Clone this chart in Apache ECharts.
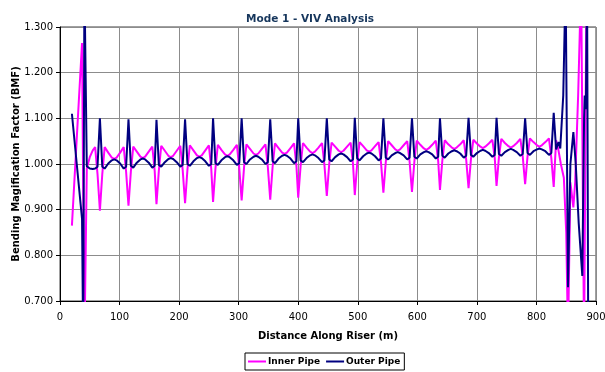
<!DOCTYPE html>
<html>
<head>
<meta charset="utf-8">
<title>Mode 1 - VIV Analysis</title>
<script src="https://cdn.jsdelivr.net/npm/echarts@6/dist/echarts.min.js"></script>
<style>
  html, body { margin: 0; padding: 0; background: #fff; }
  #chart { width: 605px; height: 372px; }
</style>
</head>
<body>
<div id="chart"></div>
<script>
// distance along riser (m), shared by both pipes up to 829 m
const distance = [
  20, 37, 39, 41, 45, 50, 55, 59, 63,
  67, 71, 75, 81, 87, 91, 95, 101, 107, 111,
  115, 119, 123, 129, 135, 139, 143, 149, 155, 159,
  162, 166, 170, 176, 182, 186, 190, 196, 202, 206,
  210, 214, 218, 224, 230, 234, 238, 244, 250, 254,
  257, 261, 265, 271, 277, 281, 285, 291, 297, 301,
  305, 309, 313, 319, 325, 329, 333, 339, 345, 349,
  353, 357, 361, 367, 373, 377, 381, 387, 393, 397,
  400, 404, 408, 414, 420, 424, 428, 434, 440, 444,
  448, 452, 456, 462, 468, 472, 476, 482, 488, 492,
  495, 499, 503, 509, 515, 519, 523, 529, 535, 539,
  543, 547, 551, 557, 563, 567, 571, 577, 583, 587,
  591, 595, 599, 605, 611, 615, 619, 625, 631, 635,
  638, 642, 646, 652, 658, 662, 666, 672, 678, 682,
  686, 690, 694, 700, 706, 710, 714, 720, 726, 730,
  733, 737, 741, 747, 753, 757, 761, 767, 773, 777,
  781, 785, 789, 795, 801, 805, 809, 815, 821, 825,
  829
];

const innerBmf = [
  0.865, 1.265, 0.930, 0.600, 0.990, 1.015, 1.030, 1.037, 0.978,
  0.898, 0.978, 1.037, 1.025, 1.014, 1.011, 1.014, 1.025, 1.037, 0.983,
  0.909, 0.984, 1.038, 1.027, 1.016, 1.013, 1.016, 1.027, 1.038, 0.985,
  0.912, 0.986, 1.040, 1.029, 1.018, 1.015, 1.018, 1.029, 1.040, 0.987,
  0.914, 0.988, 1.041, 1.030, 1.019, 1.016, 1.019, 1.030, 1.041, 0.989,
  0.917, 0.990, 1.042, 1.031, 1.021, 1.018, 1.021, 1.031, 1.042, 0.991,
  0.920, 0.992, 1.043, 1.033, 1.023, 1.020, 1.023, 1.033, 1.043, 0.993,
  0.922, 0.994, 1.045, 1.035, 1.025, 1.022, 1.025, 1.035, 1.045, 0.996,
  0.926, 0.996, 1.046, 1.036, 1.027, 1.024, 1.027, 1.036, 1.046, 0.998,
  0.930, 0.999, 1.047, 1.038, 1.029, 1.026, 1.029, 1.038, 1.047, 1.000,
  0.932, 1.000, 1.048, 1.039, 1.030, 1.027, 1.030, 1.039, 1.048, 1.003,
  0.937, 1.004, 1.050, 1.041, 1.032, 1.029, 1.032, 1.041, 1.050, 1.005,
  0.939, 1.005, 1.051, 1.042, 1.034, 1.031, 1.034, 1.042, 1.051, 1.007,
  0.943, 1.008, 1.052, 1.043, 1.036, 1.033, 1.036, 1.043, 1.052, 1.010,
  0.947, 1.010, 1.053, 1.045, 1.038, 1.035, 1.038, 1.045, 1.053, 1.013,
  0.952, 1.014, 1.055, 1.046, 1.039, 1.036, 1.039, 1.046, 1.055, 1.016,
  0.956, 1.016, 1.056, 1.048, 1.041, 1.038, 1.041, 1.048, 1.056, 1.013,
  0.950
];

const outerBmf = [
  1.110, 0.880, 0.600, 1.400, 0.995, 0.990, 0.989, 0.990, 0.994,
  1.100, 0.994, 0.990, 1.001, 1.008, 1.010, 1.008, 1.001, 0.990, 0.994,
  1.098, 0.996, 0.992, 1.003, 1.010, 1.012, 1.010, 1.003, 0.992, 0.996,
  1.097, 0.998, 0.994, 1.004, 1.011, 1.013, 1.011, 1.004, 0.994, 0.998,
  1.098, 1.000, 0.996, 1.006, 1.013, 1.015, 1.013, 1.006, 0.996, 1.000,
  1.100, 1.002, 0.998, 1.008, 1.015, 1.017, 1.015, 1.008, 0.998, 1.002,
  1.100, 1.004, 1.000, 1.010, 1.016, 1.018, 1.016, 1.010, 1.000, 1.004,
  1.098, 1.006, 1.002, 1.012, 1.018, 1.020, 1.018, 1.012, 1.002, 1.006,
  1.100, 1.008, 1.004, 1.013, 1.019, 1.021, 1.019, 1.013, 1.004, 1.008,
  1.100, 1.010, 1.006, 1.015, 1.021, 1.023, 1.021, 1.015, 1.006, 1.010,
  1.101, 1.012, 1.008, 1.017, 1.023, 1.025, 1.023, 1.017, 1.008, 1.012,
  1.100, 1.014, 1.010, 1.019, 1.024, 1.026, 1.024, 1.019, 1.010, 1.014,
  1.100, 1.016, 1.012, 1.021, 1.026, 1.028, 1.026, 1.021, 1.012, 1.016,
  1.100, 1.018, 1.014, 1.023, 1.028, 1.030, 1.028, 1.023, 1.014, 1.018,
  1.101, 1.020, 1.016, 1.024, 1.029, 1.031, 1.029, 1.024, 1.016, 1.020,
  1.101, 1.022, 1.018, 1.026, 1.031, 1.033, 1.031, 1.026, 1.018, 1.022,
  1.100, 1.024, 1.020, 1.028, 1.032, 1.034, 1.032, 1.028, 1.020, 1.024,
  1.112
];

// unstable tail near the bottom end of the riser
const innerTailDistance = [833, 837, 841, 846, 850, 853, 857, 862, 865, 870, 875, 880, 884];
const innerTailBmf      = [1.052, 1.030, 1.000, 0.970, 0.850, 0.620, 0.960, 0.905, 0.960, 1.150, 1.400, 0.600, 1.400];
const outerTailDistance = [833, 837, 840, 845, 849, 853, 857, 862, 866, 871, 877, 880, 881, 883, 885, 887];
const outerTailBmf      = [1.032, 1.048, 1.034, 1.150, 1.400, 0.730, 1.000, 1.070, 1.000, 0.870, 0.755, 1.100, 1.150, 1.120, 1.400, 0.600];

const xTicks = [0, 100, 200, 300, 400, 500, 600, 700, 800, 900];
const yTicks = [0.7, 0.8, 0.9, 1.0, 1.1, 1.2, 1.3];

function pairs(xs, ys) {
  return xs.map((x, i) => [x, ys[i]]);
}

const font = 'DejaVu Sans, Verdana, sans-serif';
const gridColor = '#8c8c8c';

const chart = echarts.init(document.getElementById('chart'), null, { renderer: 'canvas' });

const option = {
  animation: false,
  backgroundColor: '#fff',
  title: {
    text: 'Mode 1 - VIV Analysis',
    left: 305,
    textAlign: 'center',
    top: 9,
    textStyle: { fontFamily: font, fontSize: 10.5, fontWeight: 'bold', color: '#16365c' }
  },
  grid: {
    left: 60, right: 9, top: 27, bottom: 71,
    outerBoundsMode: 'none',
    containLabel: false,
    show: true, borderColor: '#404040', borderWidth: 1, backgroundColor: '#fff'
  },
  legend: {
    left: 245, top: 353,
    orient: 'horizontal',
    icon: 'rect',
    itemWidth: 18, itemHeight: 2, itemGap: 6,
    padding: [4, 4, 4, 3],
    borderColor: '#000', borderWidth: 1, backgroundColor: '#fff',
    textStyle: { fontFamily: font, fontSize: 9, fontWeight: 'bold', color: '#000', padding: [0, 0, 0, -3] },
    data: ['Inner Pipe', 'Outer Pipe']
  },
  xAxis: {
    type: 'value',
    min: xTicks[0], max: xTicks[xTicks.length - 1], interval: 100,
    name: 'Distance Along Riser (m)',
    nameLocation: 'middle', nameGap: 30,
    nameMoveOverlap: false,
    nameTextStyle: { fontFamily: font, fontSize: 10, fontWeight: 'bold', color: '#000' },
    axisLine: { lineStyle: { color: '#000', width: 1 } },
    axisTick: { show: true, inside: false, length: 4, lineStyle: { color: '#000' } },
    axisLabel: { fontFamily: font, fontSize: 10, color: '#000', margin: 11 },
    splitLine: { show: true, lineStyle: { color: gridColor, width: 1 } }
  },
  yAxis: {
    type: 'value',
    min: yTicks[0], max: yTicks[yTicks.length - 1], interval: 0.1,
    name: 'Bending Magification Factor (BMF)',
    nameLocation: 'middle', nameGap: 39,
    nameMoveOverlap: false,
    nameTextStyle: { fontFamily: font, fontSize: 10, fontWeight: 'bold', color: '#000' },
    axisLine: { show: true, lineStyle: { color: '#000', width: 1 } },
    axisTick: { show: true, inside: false, length: 4, lineStyle: { color: '#000' } },
    axisLabel: { fontFamily: font, fontSize: 10, color: '#000', margin: 7,
      formatter: v => v.toFixed(3) },
    splitLine: { show: true, lineStyle: { color: gridColor, width: 1 } }
  },
  series: [
    {
      name: 'Inner Pipe',
      type: 'line',
      symbol: 'none',
      clip: true,
      lineStyle: { color: '#ff00ff', width: 2 },
      itemStyle: { color: '#ff00ff' },
      data: pairs(distance, innerBmf).concat(pairs(innerTailDistance, innerTailBmf))
    },
    {
      name: 'Outer Pipe',
      type: 'line',
      symbol: 'none',
      clip: true,
      lineStyle: { color: '#000080', width: 2 },
      itemStyle: { color: '#000080' },
      data: pairs(distance, outerBmf).concat(pairs(outerTailDistance, outerTailBmf))
    }
  ]
};

chart.setOption(option);
</script>
</body>
</html>
